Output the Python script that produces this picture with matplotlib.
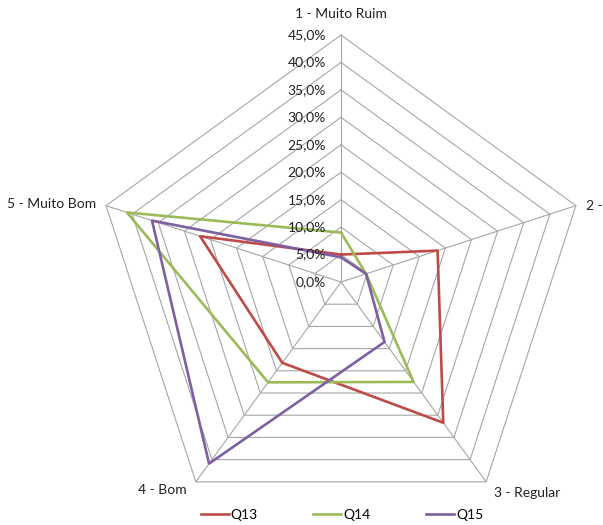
import numpy as np
import matplotlib
matplotlib.use("Agg")
import matplotlib.pyplot as plt
from matplotlib.transforms import offset_copy

plt.rcParams['font.family'] = ['Lato', 'DejaVu Sans']

categories = ["1 - Muito Ruim", "2 -", "3 - Regular", "4 - Bom", "5 - Muito Bom"]
series_names = ["Q13", "Q14", "Q15"]
q13 = [5.0, 18.5, 31.7, 18.2, 27.0]
q14 = [9.0, 4.8, 22.5, 22.6, 41.0]
q15 = [4.5, 4.8, 13.5, 40.9, 36.2]
colors = ["#BE4B48", "#9BBB59", "#7D60A0"]
r_ticks = [0, 5, 10, 15, 20, 25, 30, 35, 40, 45]
r_tick_labels = [f"{v:.1f}%".replace(".", ",") for v in r_ticks]

W, H = 603, 525
fig = plt.figure(figsize=(W / 100, H / 100), dpi=100)

cx, cy, R = 341, 282, 247
ax = fig.add_axes([(cx - R) / W, (H - cy - R) / H, 2 * R / W, 2 * R / H],
                  projection="polar")
ax.set_theta_offset(np.pi / 2)
ax.set_theta_direction(-1)
ax.set_ylim(0, 45)
ax.grid(False)
ax.set_xticks([])
ax.set_yticks([])
ax.spines["polar"].set_visible(False)
ax.patch.set_alpha(0)

n = len(categories)
theta = np.arange(n) * 2 * np.pi / n
theta_closed = np.append(theta, theta[0])

# pentagon gridlines
for r in r_ticks[1:]:
    ax.plot(theta_closed, [r] * (n + 1), color="#A6A6A6", lw=0.8, zorder=1,
            clip_on=False)
# spokes
for t in theta:
    ax.plot([t, t], [0, 45], color="#A6A6A6", lw=0.8, zorder=1, clip_on=False)

# series
for vals, name, col in zip([q13, q14, q15], series_names, colors):
    ax.plot(theta_closed, vals + vals[:1], color=col, lw=1.9, label=name,
            zorder=3, clip_on=False)

# radial value labels along the first spoke
lab_tr = offset_copy(ax.transData, fig=fig, x=-15, y=0, units="dots")
for r, lab in zip(r_ticks, r_tick_labels):
    ax.text(0, r, lab, transform=lab_tr, ha="right", va="center",
            fontsize=10, color="#222222")

# category labels
cat_offsets = [(0, 21, "center"), (10, 0, "left"), (8, -11, "left"),
               (-9, -8, "right"), (-10, 2, "right")]
for t, lab, (dx, dy, ha) in zip(theta, categories, cat_offsets):
    tr = offset_copy(ax.transData, fig=fig, x=dx, y=dy, units="dots")
    ax.text(t, 45, lab, transform=tr, ha=ha, va="center", fontsize=10,
            color="#222222")

fig.legend(loc="center", bbox_to_anchor=(342 / W, (H - 515) / H), ncol=3,
           frameon=False, fontsize=10, handlelength=2.0, handletextpad=0.15,
           columnspacing=4.0)

fig.savefig("out.png", dpi=100)
